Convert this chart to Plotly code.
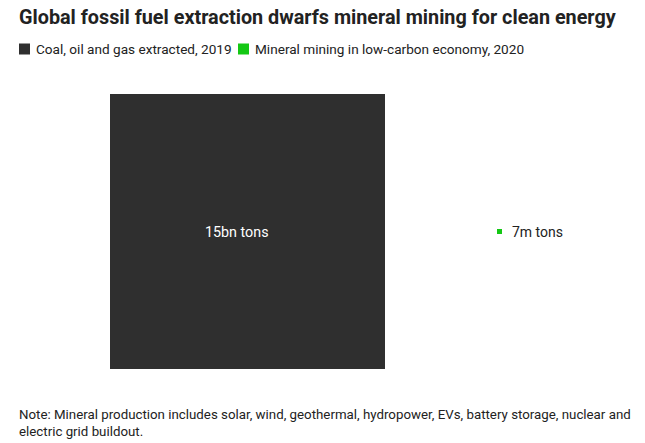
import math
import plotly.graph_objects as go

# ---- data ----
categories = ["Coal, oil and gas extracted, 2019", "Mineral mining in low-carbon economy, 2020"]
values_tons = [15e9, 7e6]
value_labels = ["15bn tons", "7m tons"]
colors = ["#2f2f2f", "#14c814"]
title_text = "Global fossil fuel extraction dwarfs mineral mining for clean energy"
note_text = ("Note: Mineral production includes solar, wind, geothermal, hydropower, EVs, battery storage, nuclear and"
             "<br>electric grid buildout.")

W, H = 645, 443
FONT = "Roboto"

# layout positions (pixels)
centers_x = [247.5, 499.5]
center_y = 231.5
big_side_px = 275.0
scale = big_side_px / math.sqrt(max(values_tons))  # area-proportional squares
sides = [math.sqrt(v) * scale for v in values_tons]

fig = go.Figure()
for cat, v, s, cx, col in zip(categories, values_tons, sides, centers_x, colors):
    fig.add_trace(go.Bar(
        x=[cx], y=[s], base=[center_y - s / 2], width=[s],
        marker=dict(color=col, line=dict(width=0)),
        name=cat, showlegend=False, hoverinfo="name",
    ))

legend_x = [19, 238]
legend_y = 49
annotations = [
    dict(x=centers_x[0] - 11, y=center_y, xref="x", yref="y", text=value_labels[0],
         showarrow=False, font=dict(family=FONT, size=14.3, color="white"),
         xanchor="center", yanchor="middle"),
    dict(x=centers_x[1] + 10.5, y=center_y, xref="x", yref="y", text=value_labels[1],
         showarrow=False, font=dict(family=FONT, size=14, color="#222222"),
         xanchor="left", yanchor="middle"),
    dict(x=19 / W, y=1 - 423 / H, xref="paper", yref="paper", text=note_text,
         showarrow=False, align="left", font=dict(family=FONT, size=13.3, color="#222222"),
         xanchor="left", yanchor="middle", xshift=-2),
]
shapes = []
for cat, col, lx in zip(categories, colors, legend_x):
    shapes.append(dict(type="rect", xref="paper", yref="paper",
                       x0=lx / W, x1=(lx + 11) / W,
                       y0=1 - (legend_y + 5.5) / H, y1=1 - (legend_y - 5.5) / H,
                       fillcolor=col, line=dict(width=0)))
    annotations.append(dict(x=(lx + 14.5) / W, y=1 - legend_y / H, xref="paper", yref="paper",
                            text=cat, showarrow=False,
                            font=dict(family=FONT, size=13.6, color="#222222"),
                            xanchor="left", yanchor="middle", xshift=0))

fig.update_layout(
    width=W, height=H,
    margin=dict(l=0, r=0, t=0, b=0),
    paper_bgcolor="white", plot_bgcolor="white",
    title=dict(text="<b>" + title_text + "</b>",
               x=19 / W, xanchor="left", y=1 - 17 / H, yanchor="middle",
               font=dict(family=FONT, size=19.8, color="#222222")),
    xaxis=dict(range=[0, W], visible=False, fixedrange=True),
    yaxis=dict(range=[H, 0], visible=False, fixedrange=True),
    annotations=annotations,
    shapes=shapes,
    showlegend=False,
    bargap=0,
)

fig.write_html("out.html", config={"displayModeBar": False},
               post_script="document.body.style.margin='0';")
